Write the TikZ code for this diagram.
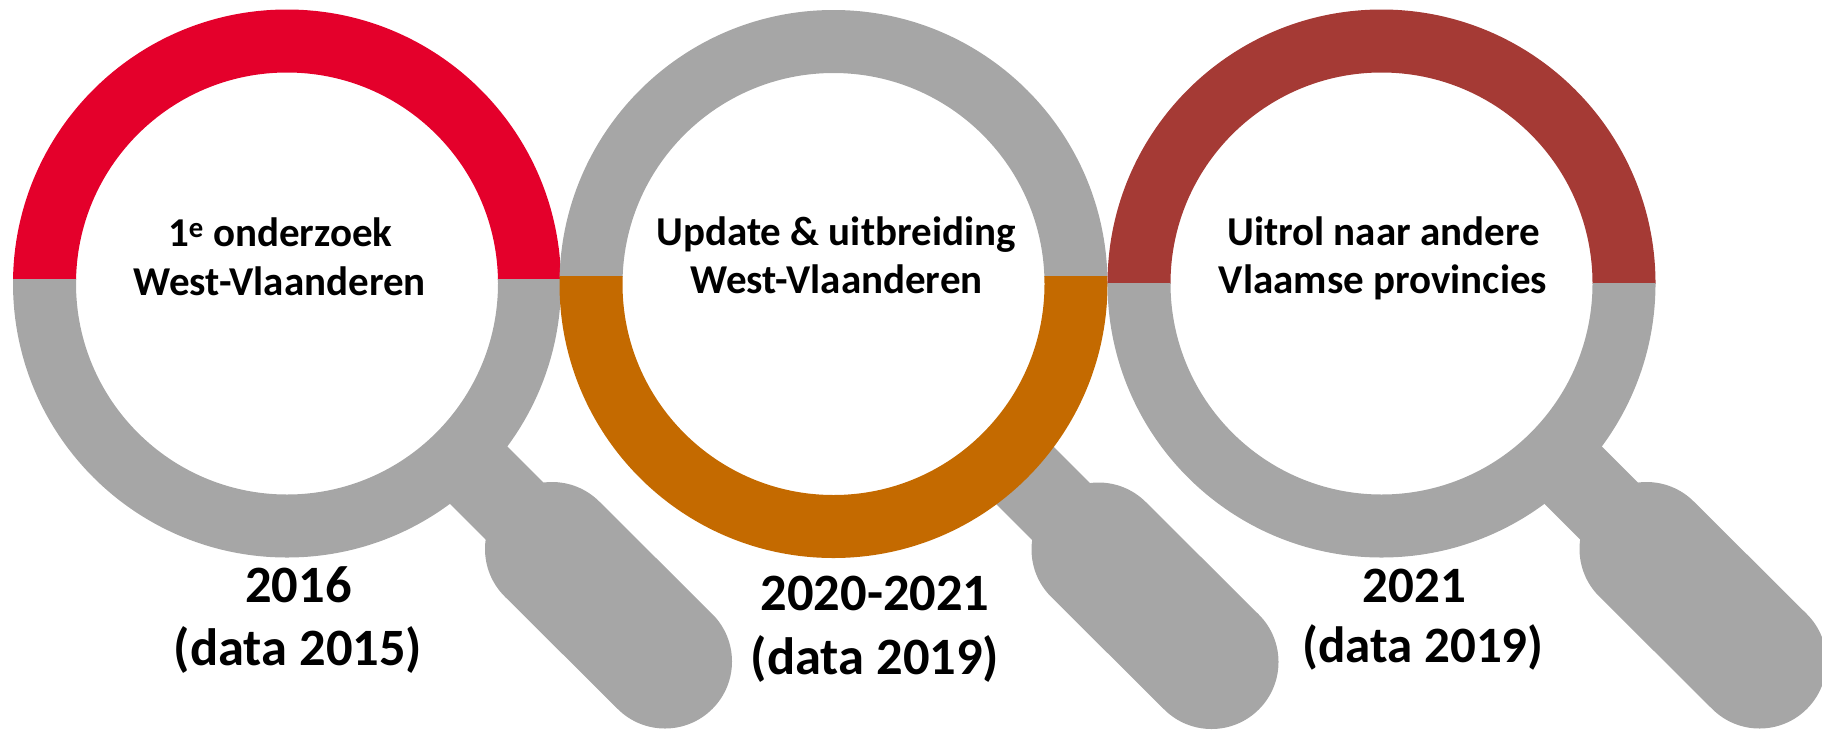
\documentclass[tikz,border=0pt]{standalone}
\usepackage{fontspec}
\setmainfont{Carlito}[BoldFont={Carlito Bold}]
\definecolor{ringgray}{HTML}{A6A6A6}
\definecolor{ringred}{HTML}{E4002B}
\definecolor{ringorange}{HTML}{C46A00}
\definecolor{ringbrown}{HTML}{A53A35}
\tikzset{
  handleneck/.style={draw=ringgray,line width=81pt,line cap=butt},
  handlegrip/.style={draw=ringgray,line width=134pt,line cap=round},
  smalllabel/.style={anchor=base,inner sep=0pt,font=\bfseries\fontsize{41}{41}\selectfont,text=black},
  yearlabel/.style={anchor=base,inner sep=0pt,font=\bfseries\fontsize{52.5}{52.5}\selectfont,text=black},
  yearlabelb/.style={yearlabel,font=\bfseries\fontsize{51}{51}\selectfont}
}
% center x, center y, split y, top colour, bottom colour
\newcommand{\magnifier}[5]{%
  \draw[handleneck] (#1+150,#2+150) -- (#1+265,#2+265);
  \draw[handlegrip] (#1+265,#2+265.5) -- (#1+378,#2+378);
  \begin{scope}
    \clip (#1-300,#2-300) rectangle (#1+300,#3);
    \fill[#4,even odd rule] (#1,#2) circle[radius=274] (#1,#2) circle[radius=211];
  \end{scope}
  \begin{scope}
    \clip (#1-300,#3) rectangle (#1+300,#2+300);
    \fill[#5,even odd rule] (#1,#2) circle[radius=274] (#1,#2) circle[radius=211];
  \end{scope}
}
\begin{document}
\begin{tikzpicture}[x=1pt,y=-1pt]
\useasboundingbox (0,0) rectangle (1822,729);
\clip (0,0) rectangle (1822,729);
\magnifier{287}{283.5}{279}{ringred}{ringgray}
\magnifier{833.5}{284}{276.5}{ringgray}{ringorange}
\magnifier{1381.5}{283.5}{283.5}{ringbrown}{ringgray}
\node[smalllabel] (a1) at (280.3,246.5) {1\textsuperscript{e} onderzoek};
\node[smalllabel] (a2) at (279.7,295.7) {West-Vlaanderen};
\node[yearlabel] (a3) at (298.5,602.5) {2016};
\node[yearlabel] (a4) at (298,665.7) {(data 2015)};
\node[smalllabel] (b1) at (836,245) {Update \& uitbreiding};
\node[smalllabel] (b2) at (836.5,293.8) {West-Vlaanderen};
\node[yearlabel] (b3) at (875,610) {2020-2021};
\node[yearlabel] (b4) at (875,674) {(data 2019)};
\node[smalllabel] (c1) at (1383.6,245) {Uitrol naar andere};
\node[smalllabel] (c2) at (1383,293) {Vlaamse provincies};
\node[yearlabelb] (c3) at (1414.6,602.5) {2021};
\node[yearlabelb] (c4) at (1423,662.5) {(data 2019)};
\end{tikzpicture}
\end{document}
